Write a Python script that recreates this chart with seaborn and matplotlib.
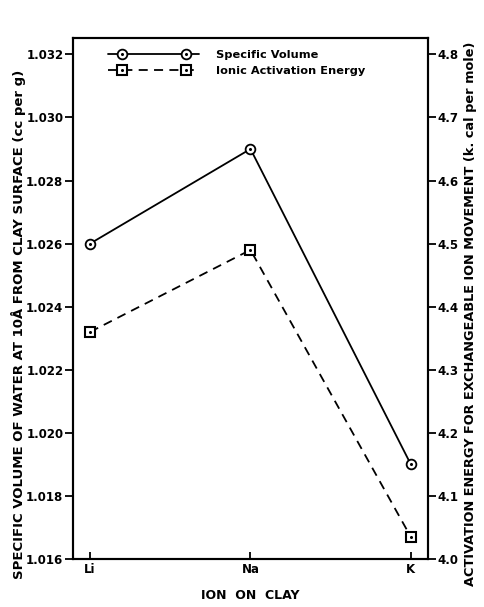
import matplotlib
matplotlib.use("Agg")
import matplotlib.pyplot as plt
import seaborn as sns
import pandas as pd
from matplotlib.lines import Line2D
from matplotlib.legend_handler import HandlerLine2D

ions = ["Li", "Na", "K"]
specific_volume = [1.0260, 1.0290, 1.0190]
activation_energy = [4.36, 4.49, 4.035]
left_ticks = [1.016, 1.018, 1.020, 1.022, 1.024, 1.026, 1.028, 1.030, 1.032]
right_ticks = [4.0, 4.1, 4.2, 4.3, 4.4, 4.5, 4.6, 4.7, 4.8]
right_ticklabels = ["4.0", "4.1", "4.2", "4.3", "4.4", "4.5", "4.6", "4.7", "4.8"]
left_ticklabels = ["1.016", "1.018", "1.020", "1.022", "1.024", "1.026", "1.028", "1.030", "1.032"]

sns.set_theme(style="white")
plt.rcParams["font.family"] = ["DejaVu Sans"]
plt.rcParams["font.weight"] = "bold"
for k in ["text.color", "axes.labelcolor", "xtick.color", "ytick.color"]:
    plt.rcParams[k] = "black"

df = pd.DataFrame({"ion": ions, "x": range(len(ions)),
                   "sv": specific_volume, "iae": activation_energy})

fig = plt.figure(figsize=(4.84, 6.07), dpi=100)
ax = fig.add_axes([0.151, 0.079, 0.733, 0.858])
ax2 = ax.twinx()

lw = 1.3
dash = (0, (5, 3.5))
sns.lineplot(data=df, x="x", y="sv", ax=ax, color="black", lw=lw,
             marker="o", markersize=7, markerfacecolor="white",
             markeredgecolor="black", markeredgewidth=1.3, legend=False)
sns.lineplot(data=df, x="x", y="iae", ax=ax2, color="black", lw=lw,
             linestyle=dash,
             marker="s", markersize=6.5, markerfacecolor="white",
             markeredgecolor="black", markeredgewidth=1.5, legend=False)
# center dots
ax.plot(df["x"], df["sv"], ls="none", marker="o", ms=1.2, color="black")
ax2.plot(df["x"], df["iae"], ls="none", marker="o", ms=1.2, color="black")

ax.set_xlim(-0.106, 2.106)
ax.set_ylim(1.016, 1.03251)
ax2.set_ylim(4.0, 4.8255)

ax.set_xticks(range(len(ions)))
ax.set_xticklabels(ions, fontsize=8.5, fontweight="bold")
ax.set_yticks(left_ticks)
ax.set_yticklabels(left_ticklabels, fontsize=8.5, fontweight="bold")
ax2.set_yticks(right_ticks)
ax2.set_yticklabels(right_ticklabels, fontsize=8.5, fontweight="bold")

ax.tick_params(axis="y", direction="out", length=6, width=1.3, pad=1, left=True)
ax.tick_params(axis="x", direction="in", length=5, width=1.3, pad=3, bottom=True)
ax2.tick_params(axis="y", direction="out", length=6, width=1.3, pad=1, right=True)

for a in (ax, ax2):
    for s in a.spines.values():
        s.set_linewidth(1.5)
        s.set_color("black")

ax.set_xlabel("ION  ON  CLAY", fontsize=9, fontweight="bold")
ax.xaxis.set_label_coords(0.50, -0.058)
ax.set_ylabel("SPECIFIC VOLUME OF WATER AT 10Å FROM CLAY SURFACE (cc per g)",
              fontsize=9.5, fontweight="bold", va="center")
ax.yaxis.set_label_coords(-0.155, 0.451)
ax2.set_ylabel("ACTIVATION ENERGY FOR EXCHANGEABLE ION MOVEMENT (k. cal per mole)",
               fontsize=9.3, fontweight="bold", rotation=90, va="center")
ax2.yaxis.set_label_coords(1.12, 0.47)

# legend with custom handles
l1_line = Line2D([], [], color="black", lw=lw)
l2_line = Line2D([], [], color="black", lw=lw, ls=dash)
h1 = (l1_line,
      Line2D([], [], ls="none", marker="o", ms=7, mfc="white", mec="black", mew=1.3),
      Line2D([], [], ls="none", marker="o", ms=1.2, color="black"))
h2 = (l2_line,
      Line2D([], [], ls="none", marker="s", ms=6.5, mfc="white", mec="black", mew=1.5),
      Line2D([], [], ls="none", marker="o", ms=1.2, color="black"))
ext = HandlerLine2D(marker_pad=-0.9, numpoints=2)
leg = ax.legend([h1, h2], ["Specific Volume", "Ionic Activation Energy"],
                loc="upper left", bbox_to_anchor=(0.099, 0.997), frameon=False,
                numpoints=2, handlelength=6.2, handletextpad=2.4, labelspacing=0.55,
                handler_map={l1_line: ext, l2_line: ext},
                prop={"size": 8.2, "weight": "bold"})

fig.savefig("out.png", dpi=100)
